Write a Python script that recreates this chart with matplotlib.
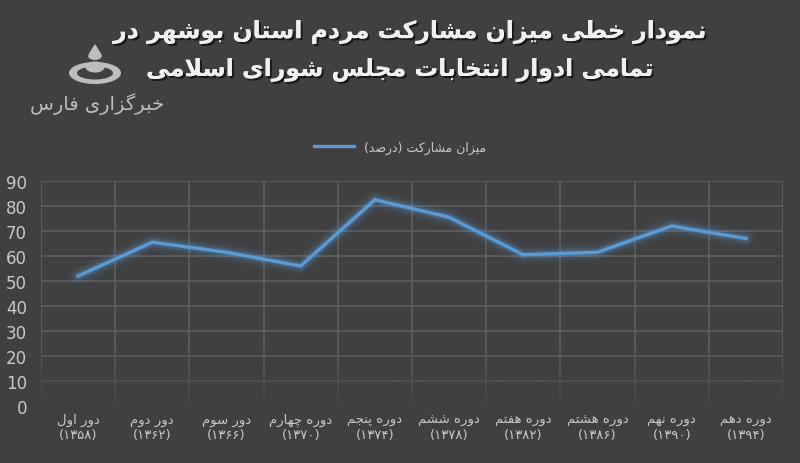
import numpy as np
import matplotlib
matplotlib.use('Agg')
import matplotlib.pyplot as plt
import matplotlib.patheffects as pe
from matplotlib.patches import Ellipse, Circle, Polygon

# data
terms = ['دور اول', 'دور دوم', 'دور سوم', 'دوره چهارم', 'دوره پنجم',
         'دوره ششم', 'دوره هفتم', 'دوره هشتم', 'دوره نهم', 'دوره دهم']
years = ['(۱۳۵۸)', '(۱۳۶۲)', '(۱۳۶۶)', '(۱۳۷۰)', '(۱۳۷۴)',
         '(۱۳۷۸)', '(۱۳۸۲)', '(۱۳۸۶)', '(۱۳۹۰)', '(۱۳۹۴)']
turnout = [52, 65.5, 61.5, 56, 82.5, 75.5, 60.5, 61.5, 72, 67]
series_name = 'میزان مشارکت (درصد)'
title1 = 'نمودار خطی میزان مشارکت مردم استان بوشهر در'
title2 = 'تمامی ادوار انتخابات مجلس شورای اسلامی'
logo_text = 'خبرگزاری فارس'

# simple arabic/persian shaping (iso, final, initial, medial)
FORMS = {
    'ا': ('\uFE8D', '\uFE8E', None, None),
    'ب': ('\uFE8F', '\uFE90', '\uFE91', '\uFE92'),
    'پ': ('\uFB56', '\uFB57', '\uFB58', '\uFB59'),
    'ت': ('\uFE95', '\uFE96', '\uFE97', '\uFE98'),
    'ث': ('\uFE99', '\uFE9A', '\uFE9B', '\uFE9C'),
    'ج': ('\uFE9D', '\uFE9E', '\uFE9F', '\uFEA0'),
    'چ': ('\uFB7A', '\uFB7B', '\uFB7C', '\uFB7D'),
    'ح': ('\uFEA1', '\uFEA2', '\uFEA3', '\uFEA4'),
    'خ': ('\uFEA5', '\uFEA6', '\uFEA7', '\uFEA8'),
    'د': ('\uFEA9', '\uFEAA', None, None),
    'ذ': ('\uFEAB', '\uFEAC', None, None),
    'ر': ('\uFEAD', '\uFEAE', None, None),
    'ز': ('\uFEAF', '\uFEB0', None, None),
    'ژ': ('\uFB8A', '\uFB8B', None, None),
    'س': ('\uFEB1', '\uFEB2', '\uFEB3', '\uFEB4'),
    'ش': ('\uFEB5', '\uFEB6', '\uFEB7', '\uFEB8'),
    'ص': ('\uFEB9', '\uFEBA', '\uFEBB', '\uFEBC'),
    'ط': ('\uFEC1', '\uFEC2', '\uFEC3', '\uFEC4'),
    'ع': ('\uFEC9', '\uFECA', '\uFECB', '\uFECC'),
    'ف': ('\uFED1', '\uFED2', '\uFED3', '\uFED4'),
    'ق': ('\uFED5', '\uFED6', '\uFED7', '\uFED8'),
    'ک': ('\uFB8E', '\uFB8F', '\uFB90', '\uFB91'),
    'گ': ('\uFB92', '\uFB93', '\uFB94', '\uFB95'),
    'ل': ('\uFEDD', '\uFEDE', '\uFEDF', '\uFEE0'),
    'م': ('\uFEE1', '\uFEE2', '\uFEE3', '\uFEE4'),
    'ن': ('\uFEE5', '\uFEE6', '\uFEE7', '\uFEE8'),
    'و': ('\uFEED', '\uFEEE', None, None),
    'ه': ('\uFEE9', '\uFEEA', '\uFEEB', '\uFEEC'),
    'ی': ('\uFBFC', '\uFBFD', '\uFBFE', '\uFBFF'),
}


def shape(s):
    chars = list(s)
    out = []
    i = 0
    while i < len(chars):
        c = chars[i]
        if c not in FORMS:
            out.append(c)
            i += 1
            continue
        prev = chars[i - 1] if i > 0 else None
        join_prev = prev in FORMS and FORMS[prev][2] is not None
        if c == 'ل' and i + 1 < len(chars) and chars[i + 1] == 'ا':
            out.append('\uFEFC' if join_prev else '\uFEFB')
            i += 2
            continue
        nxt = chars[i + 1] if i + 1 < len(chars) else None
        join_next = FORMS[c][2] is not None and nxt in FORMS
        iso, fin, ini, med = FORMS[c]
        if join_prev and join_next:
            out.append(med)
        elif join_prev:
            out.append(fin)
        elif join_next:
            out.append(ini)
        else:
            out.append(iso)
        i += 1
    vis = ''.join(out)[::-1]
    return vis.translate(str.maketrans('()', ')('))


bg = '#404040'
grid_c = '#5e5e5e'
line_c = '#5b9bd5'
txt_c = '#c8c8c8'

plt.rcParams['font.family'] = ['DejaVu Sans']

fig = plt.figure(figsize=(8, 4.64), dpi=100, facecolor=bg)
ax = fig.add_axes([41 / 800, 1 - 407 / 464, 742 / 800, 225 / 464])
ax.set_facecolor(bg)

n = len(turnout)
x = np.arange(n)

# grid
for b in np.arange(-0.5, n, 1.0):
    ax.axvline(b, color=grid_c, lw=1.2, zorder=1)
for v in range(0, 91, 10):
    ax.axhline(v, color=grid_c, lw=1.2, zorder=1)

# fade the grid toward the bottom
grad = np.zeros((100, 1, 4))
grad[..., :3] = matplotlib.colors.to_rgb(bg)
grad[:, 0, 3] = np.linspace(0, 0.97, 100) ** 1.3
ax.imshow(grad, extent=(-0.6, n - 0.4, -1, 24), aspect='auto', zorder=2,
          origin='upper', interpolation='bilinear')
ax.set_xlim(-0.5, n - 0.5)
ax.set_ylim(0, 90)

# glow + line
for w, a in [(14, 0.05), (10, 0.08), (7, 0.12), (5, 0.18)]:
    ax.plot(x, turnout, color=line_c, lw=w, alpha=a, solid_capstyle='round',
            solid_joinstyle='round', zorder=3)
ax.plot(x, turnout, color=line_c, lw=2.4, zorder=4, solid_joinstyle='miter',
        label=shape(series_name))

for s in ax.spines.values():
    s.set_visible(False)

ax.set_yticks(range(0, 91, 10))
ax.tick_params(axis='y', length=0, pad=10, labelsize=12, labelcolor=txt_c)
ax.set_xticks(x)
ax.set_xticklabels([])
ax.tick_params(axis='x', length=0)
for i in range(n):
    ax.text(i, -5.5, shape(terms[i]), ha='center', va='center', fontsize=9.5,
            color=txt_c, zorder=5, clip_on=False)
    ax.text(i, -11.2, years[i], ha='center', va='center', fontsize=9.5,
            color=txt_c, zorder=5, clip_on=False)

leg = fig.legend(loc='center', bbox_to_anchor=(0.5, 1 - 148 / 464), frameon=False,
                 fontsize=9, handlelength=3.2, labelcolor=txt_c)

# title
shadow = [pe.withSimplePatchShadow(offset=(1.5, -1.5), shadow_rgbFace='black', alpha=0.6),
          pe.Normal()]
fig.text(410 / 800, 1 - 33 / 464, shape(title1), ha='center', va='center',
         fontsize=17, fontweight='bold', color='#f0f0f0', path_effects=shadow)
fig.text(400 / 800, 1 - 71 / 464, shape(title2), ha='center', va='center',
         fontsize=17, fontweight='bold', color='#f0f0f0', path_effects=shadow)

# logo (rough)
logo_c = '#bdbdbd'
lx, ly = 95 / 800, 1 - 74 / 464
fig.patches.append(Ellipse((lx, ly), 52 / 800, 22 / 464, transform=fig.transFigure,
                           facecolor=logo_c, edgecolor='none'))
fig.patches.append(Ellipse((lx, ly), 36 / 800, 13 / 464, transform=fig.transFigure,
                           facecolor=bg, edgecolor='none'))
fig.patches.append(Circle((lx, 1 - 68 / 464), 0.012, transform=fig.transFigure,
                          facecolor=logo_c, edgecolor='none'))
fig.patches.append(Circle((lx, 1 - 57 / 464), 0.0085, transform=fig.transFigure,
                          facecolor=logo_c, edgecolor='none'))
fig.patches.append(Polygon([(lx - 0.008, 1 - 55 / 464), (lx + 0.008, 1 - 55 / 464),
                            (lx, 1 - 45 / 464)], closed=True, transform=fig.transFigure,
                           facecolor=logo_c, edgecolor='none'))
fig.text(lx + 0.003, 1 - 104 / 464, shape(logo_text), ha='center', va='center',
         fontsize=14, color=logo_c)

plt.savefig('out.png', dpi=100, facecolor=bg)
